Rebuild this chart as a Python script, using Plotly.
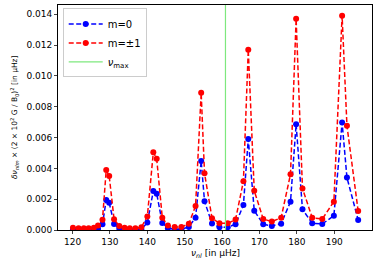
import plotly.graph_objects as go

nu = [120.1, 121.6, 123.0, 124.3, 125.7, 126.8, 128.0, 129.0, 129.8, 131.1,
      132.5, 133.9, 135.3, 136.8, 138.4, 140.0, 141.6, 142.5, 144.0, 145.5,
      147.3, 149.1, 151.1, 152.9, 154.4, 155.3, 157.3, 159.3, 161.5, 163.6,
      165.7, 167.0, 168.6, 171.0, 173.3, 175.8, 178.3, 179.8, 181.5, 184.1,
      186.8, 189.9, 192.1, 193.4, 196.4]

m0 = [0.00003, 0.00003, 0.00003, 0.00003, 0.00004, 0.00008, 0.00037, 0.00195, 0.00177, 0.00039,
      0.00010, 0.00003, 0.00003, 0.00003, 0.00005, 0.00048, 0.00253, 0.00236, 0.00046, 0.00012,
      0.00005, 0.00005, 0.00020, 0.00080, 0.00448, 0.00186, 0.00042, 0.00018, 0.00018, 0.00037,
      0.00162, 0.00590, 0.00125, 0.00038, 0.00026, 0.00041, 0.00184, 0.00686, 0.00134, 0.00043,
      0.00039, 0.00093, 0.00697, 0.00340, 0.00065]

m1 = [0.00015, 0.00012, 0.00012, 0.00012, 0.00015, 0.00030, 0.00066, 0.00390, 0.00350, 0.00070,
      0.00026, 0.00014, 0.00012, 0.00012, 0.00018, 0.00088, 0.00504, 0.00463, 0.00080, 0.00030,
      0.00020, 0.00020, 0.00040, 0.00156, 0.00890, 0.00368, 0.00077, 0.00043, 0.00043, 0.00068,
      0.00316, 0.01170, 0.00255, 0.00071, 0.00055, 0.00080, 0.00362, 0.01370, 0.00270, 0.00080,
      0.00071, 0.00184, 0.01390, 0.00677, 0.00123]

nu_max = 160.9
y_ticks = [0.0, 0.002, 0.004, 0.006, 0.008, 0.010, 0.012, 0.014]
x_ticks = [120, 130, 140, 150, 160, 170, 180, 190]

fig = go.Figure()
fig.add_trace(go.Scatter(x=nu, y=m0, mode="lines+markers", name="m=0",
                         line=dict(color="blue", dash="5px,2.5px", width=1.5),
                         marker=dict(color="blue", size=6)))
fig.add_trace(go.Scatter(x=nu, y=m1, mode="lines+markers", name="m=±1",
                         line=dict(color="red", dash="5px,2.5px", width=1.5),
                         marker=dict(color="red", size=6)))
fig.add_trace(go.Scatter(x=[nu_max, nu_max], y=[0, 0.0146], mode="lines",
                         name="<i>ν</i><sub>max</sub>",
                         line=dict(color="#7ee87e", width=1.2)))

font = "DejaVu Sans"
fig.update_layout(
    width=378, height=262,
    margin=dict(l=58, r=6, t=5, b=32, autoexpand=False),
    paper_bgcolor="white", plot_bgcolor="white",
    font=dict(family=font, size=9, color="black"),
    showlegend=True,
    legend=dict(x=0.015, y=0.985, xanchor="left", yanchor="top",
                bgcolor="rgba(255,255,255,0.8)", bordercolor="#cccccc", borderwidth=1,
                font=dict(size=10), itemwidth=34, tracegroupgap=0),
    xaxis=dict(range=[116.1, 200.1], tickvals=x_ticks, ticks="outside", ticklen=3,
               showline=True, linecolor="black", linewidth=1, mirror=True,
               showgrid=False, zeroline=False, automargin=False),
    yaxis=dict(range=[0, 0.0146], tickvals=y_ticks, tickformat=".3f", ticks="outside", ticklen=3,
               showline=True, linecolor="black", linewidth=1, mirror=True,
               showgrid=False, zeroline=False, automargin=False),
    annotations=[
        dict(text="<i>ν</i><sub><i>nl</i></sub> [in μHz]", xref="paper", yref="paper",
             x=0.5, y=0, xanchor="center", yanchor="top", yshift=-16,
             showarrow=False, font=dict(size=9)),
        dict(text="<i>δν</i><sub><i>nlm</i></sub> × (2 × 10<sup>2</sup> G / B<sub>0</sub>)<sup>2</sup> [in μHz]",
             xref="paper", yref="paper", x=0, y=0.5, xanchor="right", yanchor="middle",
             xshift=-36, textangle=-90, showarrow=False, font=dict(size=7.5)),
    ],
)

fig.write_html("out.html", config={"displayModeBar": False},
               post_script="document.body.style.margin='0';document.body.style.overflow='hidden';")
